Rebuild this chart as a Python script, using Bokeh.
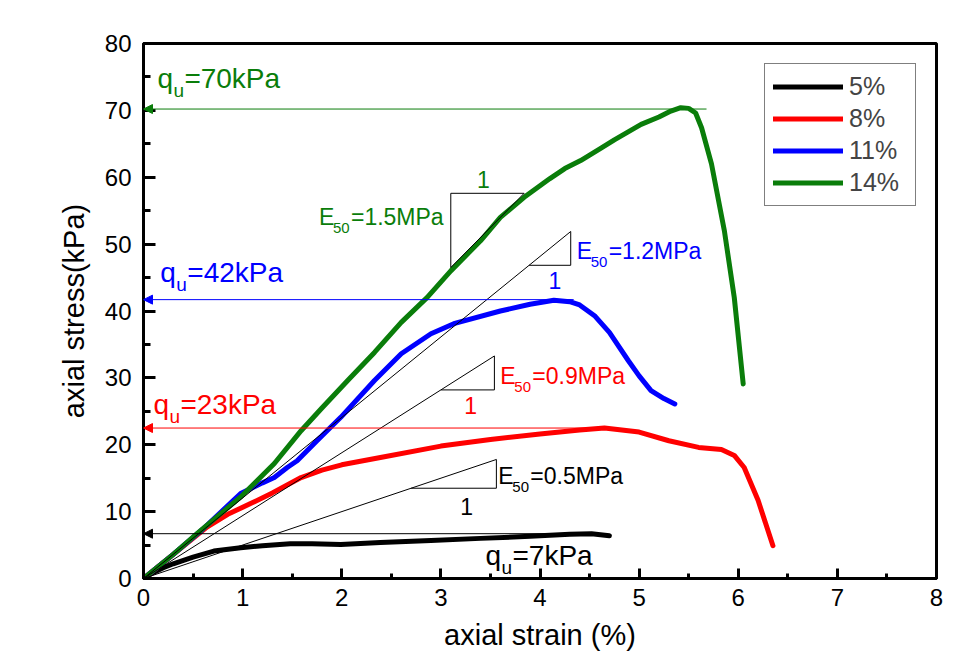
from bokeh.plotting import figure
from bokeh.models import Range1d, SingleIntervalTicker, Legend, LegendItem, Arrow, NormalHead
from bokeh.core.properties import value
from bokeh.embed import file_html
from bokeh.resources import INLINE

FONT = "Liberation Sans"

# ---- data ----
series_names = ["5%", "8%", "11%", "14%"]
series_colors = ["#000000", "#ff0000", "#0000ff", "#0a7d0a"]

x_5 = [0, 0.1, 0.2, 0.3, 0.5, 0.71, 0.98, 1.2, 1.48, 1.7, 1.99, 2.39, 2.9, 3.4, 3.9, 4.3, 4.52, 4.7]
y_5 = [0, 0.9, 1.6, 2.2, 3.2, 4.1, 4.6, 4.9, 5.2, 5.2, 5.1, 5.4, 5.7, 6.0, 6.3, 6.6, 6.7, 6.4]

x_8 = [0, 0.2, 0.4, 0.64, 0.85, 1.08, 1.3, 1.59, 1.8, 2.0, 2.39, 3.0, 3.5, 4.0, 4.4, 4.65,
       5.0, 5.3, 5.6, 5.83, 5.96, 6.06, 6.2, 6.35]
y_8 = [0, 2.4, 4.8, 7.7, 9.6, 11.2, 12.8, 15.1, 16.2, 17.0, 18.1, 19.8, 20.8, 21.6, 22.2, 22.5,
       21.9, 20.6, 19.6, 19.3, 18.4, 16.6, 11.7, 4.9]

x_11 = [0, 0.3, 0.6, 0.98, 1.2, 1.32, 1.45, 1.55, 1.75, 1.99, 2.33, 2.6, 2.9, 3.13, 3.6, 3.9,
        4.14, 4.3, 4.4, 4.55, 4.7, 4.89, 5.0, 5.12, 5.25, 5.36]
y_11 = [0, 3.6, 7.4, 12.7, 14.3, 15.1, 16.6, 17.6, 20.6, 24.1, 29.6, 33.6, 36.6, 38.1, 40.0, 41.0,
        41.6, 41.4, 40.9, 39.3, 36.8, 32.6, 30.3, 28.1, 26.9, 26.1]

x_14 = [0, 0.3, 0.54, 0.98, 1.32, 1.59, 1.8, 2.06, 2.33, 2.6, 2.86, 3.1, 3.4, 3.6, 3.84, 4.1, 4.25,
        4.41, 4.62, 4.75, 5.02, 5.2, 5.32, 5.42, 5.5, 5.57, 5.63, 5.73, 5.86, 5.96, 6.05]
y_14 = [0, 3.6, 6.7, 12.2, 17.2, 22.1, 25.5, 29.6, 33.8, 38.3, 42.0, 46.0, 50.5, 54.0, 57.0, 59.8, 61.3,
        62.5, 64.4, 65.6, 67.9, 69.0, 69.9, 70.4, 70.3, 69.6, 67.4, 62.0, 52.0, 42.0, 29.1]

series_x = [x_5, x_8, x_11, x_14]
series_y = [y_5, y_8, y_11, y_14]

# peak-strength arrows (kPa) and where each arrow line starts (strain %)
qu_levels = [6.7, 22.5, 41.7, 70.2]
qu_line_from = [4.5, 4.7, 4.34, 5.68]
qu_texts = ["=7kPa", "=23kPa", "=42kPa", "=70kPa"]

# secant-modulus triangles: slope (kPa per %), base start and end strain
e50_texts = ["=0.5MPa", "=0.9MPa", "=1.2MPa", "=1.5MPa"]
e50_slopes = [5.0, 9.4, 12.04, 15.0]
tri_x0 = [2.70, 3.00, 3.89, 3.10]
tri_x1 = [3.56, 3.54, 4.31, 3.84]

x_ticks_interval = 1
y_ticks_interval = 10

# ---- figure ----
p = figure(width=979, height=665, x_range=Range1d(0, 8), y_range=Range1d(0, 80),
           output_backend="svg", toolbar_location=None,
           min_border_left=143, min_border_right=43, min_border_top=43, min_border_bottom=87)
p.xgrid.visible = False
p.ygrid.visible = False
p.outline_line_color = "black"
p.outline_line_width = 3
p.background_fill_color = "white"
p.border_fill_color = "white"

p.xaxis.ticker = SingleIntervalTicker(interval=x_ticks_interval, num_minor_ticks=2)
p.yaxis.ticker = SingleIntervalTicker(interval=y_ticks_interval, num_minor_ticks=2)
for ax in (p.xaxis, p.yaxis):
    ax.axis_line_width = 3
    ax.axis_line_color = "black"
    ax.major_tick_line_width = 3
    ax.minor_tick_line_width = 3
    ax.major_tick_out = 0
    ax.minor_tick_out = 0
    ax.major_label_text_font = FONT
    ax.major_label_text_font_size = "24px"
    ax.major_label_text_color = "black"
    ax.axis_label_text_font = FONT
    ax.axis_label_text_font_size = "29px"
    ax.axis_label_text_font_style = "normal"
    ax.axis_label_text_color = "black"
p.xaxis.major_tick_in = 10
p.xaxis.minor_tick_in = 5
p.yaxis.major_tick_in = 12
p.yaxis.minor_tick_in = 7
p.xaxis.major_label_standoff = 10
p.yaxis.major_label_standoff = 12
p.xaxis.axis_label = "axial strain (%)"
p.yaxis.axis_label = "axial stress(kPa)"
p.xaxis.axis_label_standoff = 10
p.yaxis.axis_label_standoff = 12

# ---- curves ----
renderers = []
for xs, ys, c in zip(series_x, series_y, series_colors):
    r = p.line(xs, ys, line_color=c, line_width=5, line_cap="round", line_join="round")
    renderers.append(r)

# ---- tangent lines and slope triangles ----
for k in range(4):
    s = e50_slopes[k]
    a, b = tri_x0[k], tri_x1[k]
    if k < 3:
        p.line([0, b], [0, s * b], line_color="black", line_width=1)
    else:
        p.line([a, b], [s * a, s * b], line_color="black", line_width=1)
    if k == 3:
        # vertical on the left, horizontal on top
        p.line([a, a, b], [s * a, s * b, s * b], line_color="black", line_width=1)
    else:
        # horizontal at bottom, vertical on the right
        p.line([a, b, b], [s * a, s * a, s * b], line_color="black", line_width=1)

# ---- arrows to the stress axis ----
for lvl, x0, c in zip(qu_levels, qu_line_from, series_colors):
    p.add_layout(Arrow(end=NormalHead(size=9, fill_color=c, line_color=c, line_width=1),
                       x_start=x0, y_start=lvl, x_end=0, y_end=lvl,
                       line_color=c, line_width=1))


def txt(x, y, s, color, size, xoff=0, yoff=0, align="left"):
    p.text(x=[x], y=[y], text=[s], text_color=color, text_font=value(FONT),
           text_font_size=value(size), text_baseline="middle", text_align=align,
           x_offset=xoff, y_offset=yoff)


def sub_label(x, y, base, sub, rest, color, big, small, sub_off, rest_off, sub_dy):
    txt(x, y, base, color, big)
    txt(x, y, sub, color, small, xoff=sub_off, yoff=sub_dy)
    txt(x, y, rest, color, big, xoff=rest_off)


# q_u labels (left edge strain, stress at text middle)
qu_pos = [(3.45, 3.4), (0.10, 26.0), (0.17, 45.7), (0.14, 74.7)]
for (qx, qy), t, c in zip(qu_pos, qu_texts, series_colors):
    sub_label(qx, qy, "q", "u", t, c, "28px", "19px", 16, 27, 12)

# E50 labels
e_pos = [(3.58, 15.4), (3.60, 30.3), (4.37, 48.9), (1.77, 54.0)]
for (ex, ey), t, c in zip(e_pos, e50_texts, series_colors):
    sub_label(ex, ey, "E", "50", t, c, "23px", "15px", 14, 32, 11)

# "1" next to triangles
one_pos = [(3.26, 10.8), (3.30, 25.9), (4.15, 44.5), (3.43, 59.7)]
for (ox, oy), c in zip(one_pos, series_colors):
    txt(ox, oy, "1", c, "23px", align="center")

# ---- legend ----
legend = Legend(items=[LegendItem(label=n, renderers=[r]) for n, r in zip(series_names, renderers)],
                location="top_right", margin=20, padding=8, spacing=3,
                glyph_width=70, glyph_height=29, label_standoff=6, label_width=58,
                label_text_font=FONT, label_text_font_size="25px",
                border_line_color="black", border_line_width=1,
                background_fill_color="white", background_fill_alpha=1)
p.add_layout(legend)

open("out.html", "w").write(file_html(p, INLINE))
